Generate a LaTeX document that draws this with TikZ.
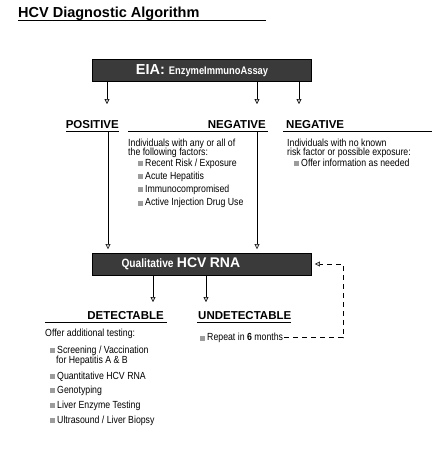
\documentclass[tikz,border=0pt]{standalone}
\usepackage{fontspec}
\setmainfont{Liberation Sans}
\newfontfamily\narrowfont[FakeStretch=0.85]{Liberation Sans}
\usetikzlibrary{arrows.meta}
\definecolor{boxfill}{HTML}{3A3A3A}
\definecolor{bulgray}{HTML}{9C9C9C}
\newcommand{\bul}{{\color{bulgray}\rule{5pt}{5pt}}\hspace{2pt}}
\begin{document}
\begin{tikzpicture}[x=1pt,y=-1pt,
  darkbox/.style={draw=black,line width=0.8pt,fill=boxfill,minimum width=219pt,minimum height=22pt,inner sep=0pt,text=white,font=\bfseries},
  arr/.style={-{Triangle[width=5pt,length=5pt,fill=gray!45,line width=0.5pt]},line width=0.8pt},
  lbl/.style={font=\fontsize{11.5}{12}\selectfont\bfseries,inner sep=0pt},
  body/.style={font=\narrowfont\fontsize{10.3}{10}\selectfont,inner sep=0pt,anchor=base west},
  uline/.style={line width=0.8pt},
  loop/.style={line width=0.8pt,dash pattern=on 5pt off 4pt}
]
\useasboundingbox (0,0) rectangle (437,456);
% title
\node[anchor=base west,font=\fontsize{14.5}{15}\selectfont\bfseries,inner sep=0pt] (title) at (18,17) {HCV Diagnostic Algorithm};
\draw[uline] (18,20.5) -- (266,20.5);
% boxes
\node[darkbox] (eia) at (202,70.5) {\fontsize{14.5}{14}\selectfont EIA: \narrowfont\fontsize{11}{10}\selectfont EnzymeImmunoAssay};
\node[darkbox,text width=219pt,align=left] (qual) at (202,264) {\hspace*{29pt}\narrowfont\fontsize{12}{11}\selectfont Qualitative \normalfont\bfseries\fontsize{14}{14}\selectfont HCV RNA};
% labels
\node[lbl,anchor=base east] (pos) at (119,128) {POSITIVE};
\draw[uline] (66,131) -- (119,131);
\node[lbl,anchor=base east] (neg1) at (266,128) {NEGATIVE};
\draw[uline] (128,131) -- (268,131);
\node[lbl,anchor=base west] (neg2) at (286,128) {NEGATIVE};
\draw[uline] (283,131) -- (432,131);
\node[lbl,anchor=base east] (det) at (164,319) {DETECTABLE};
\draw[uline] (45,322) -- (167,322);
\node[lbl,anchor=base west] (undet) at (198,319) {UNDETECTABLE};
\draw[uline] (197,322) -- (291,322);
% middle list
\node[body] (m1) at (128,146) {Individuals with any or all of};
\node[body] (m2) at (128,155) {the following factors:};
\node[body] (m3) at (138,166) {\bul Recent Risk / Exposure};
\node[body] (m4) at (138,179) {\bul Acute Hepatitis};
\node[body] (m5) at (138,192) {\bul Immunocompromised};
\node[body] (m6) at (138,205.5) {\bul Active Injection Drug Use};
% right list
\node[body] (r1) at (287,146) {Individuals with no known};
\node[body] (r2) at (287,155) {risk factor or possible exposure:};
\node[body] (r3) at (294,166) {\bul Offer information as needed};
% bottom left list
\node[body] (b1) at (45,336) {Offer additional testing:};
\node[body] (b2) at (50,353) {\bul Screening / Vaccination};
\node[body] (b3) at (56,363) {for Hepatitis A \& B};
\node[body] (b4) at (50,379) {\bul Quantitative HCV RNA};
\node[body] (b5) at (50,393) {\bul Genotyping};
\node[body] (b6) at (50,408) {\bul Liver Enzyme Testing};
\node[body] (b7) at (50,423) {\bul Ultrasound / Liver Biopsy};
% repeat
\node[body] (rep) at (200,340.5) {\bul Repeat in \textbf{6} months};
% connectors
\coordinate (a1) at (107,104);
\coordinate (a2) at (257,104);
\coordinate (a3) at (299,104);
\draw[arr] (eia.south -| a1) -- (a1);
\draw[arr] (eia.south -| a2) -- (a2);
\draw[arr] (eia.south -| a3) -- (a3);
\coordinate (p1) at (108,131);
\coordinate (p2) at (257,131);
\draw[arr,shorten >=3.5pt] (p1) -- (qual.north -| p1);
\draw[arr,shorten >=3.5pt] (p2) -- (qual.north -| p2);
\coordinate (d1) at (153,302);
\coordinate (d2) at (206,302);
\draw[arr] (qual.south -| d1) -- (d1);
\draw[arr] (qual.south -| d2) -- (d2);
\coordinate (lp) at (343,0);
\draw[loop] ([xshift=1pt]rep.east) -- (rep.east -| lp) -- (qual.east -| lp) -- ([xshift=10pt]qual.east);
\draw[arr] ([xshift=10pt]qual.east) -- ([xshift=3pt]qual.east);
\end{tikzpicture}
\end{document}
